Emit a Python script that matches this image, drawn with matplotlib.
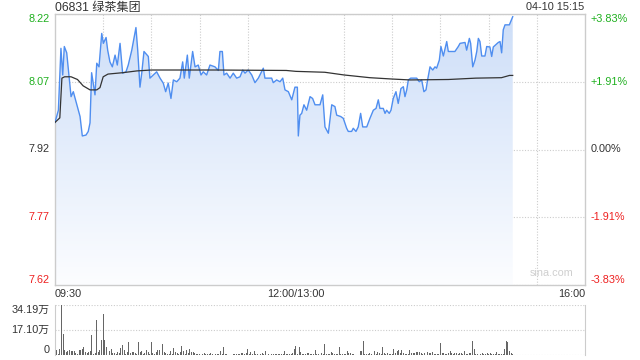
import numpy as np
import matplotlib
matplotlib.use("Agg")
import matplotlib.pyplot as plt
from matplotlib.patches import Polygon
from matplotlib.colors import LinearSegmentedColormap

plt.rcParams['font.family'] = ['Liberation Sans', 'Noto Sans CJK SC', 'DejaVu Sans']

# ---------------- data ----------------
title_text = "06831 绿茶集团"
stamp_text = "04-10 15:15"
prev_close = 7.92
price_ticks = [7.62, 7.77, 7.92, 8.07, 8.22]
price_tick_labels = ["7.62", "7.77", "7.92", "8.07", "8.22"]
pct_tick_labels = ["-3.83%", "-1.91%", "0.00%", "+1.91%", "+3.83%"]
time_ticks = [0, 150, 330]
time_tick_labels = ["09:30", "12:00/13:00", "16:00"]
vol_ticks = [0, 17.10, 34.19]
vol_tick_labels = ["0", "17.10万", "34.19万"]

# price line: trading-minute offset from 09:30, price
price_min = [0, 2.1, 3.7, 4.8, 5.8, 7.3, 10, 11.4, 15.6, 17, 19.3, 20.7, 21.8, 22.8, 24.9,
             26, 27.4, 29.1, 30.1, 31.8, 32.8, 34.2, 35.7, 37.4, 38.8, 40.5, 42.1, 44.2,
             45.6, 47.8, 50.4, 51.5, 52.9, 54, 55.4, 58.1, 59.1, 61.2, 63.3, 65.4, 67.4,
             68.9, 70.5, 72.2, 73.7, 75.8, 77.8, 79.5, 80.5, 82.4, 83.6, 85.7, 87.2, 89.2,
             90.9, 92.3, 94.4, 96.5, 99.6, 101.7, 102.7, 104.2, 105.2, 106.9, 109, 111,
             113.1, 115.2, 116.9, 118.3, 120.3, 122.5, 124.5, 126.6, 129.7, 130.7, 134.9,
             135.9, 138, 140.1, 141.8, 143.2, 145.3, 147.4, 149.4, 150.9, 151.5, 152.5,
             153.6, 155, 156.7, 158.8, 160.4, 161.9, 165, 166.7, 168.1, 170.2, 172.3,
             174.3, 175.4, 177.9, 179.5, 181.6, 182.6, 184.7, 185.7, 187.4, 188.8, 190.3,
             191.6, 194.1, 196.1, 198.2, 199.9, 201.3, 202.3, 204.4, 205.5, 206.5, 208.1,
             209.2, 210.6, 212.3, 213.7, 215.4, 216.9, 217.9, 219, 220, 221.5, 225.2,
             226.8, 228.3, 229.7, 231, 232, 233.5, 235.2, 236.6, 237.6, 239.3, 240.3,
             241.8, 243.9, 244.9, 249, 251.1, 252.2, 255.3, 256.3, 258, 258.8, 260.1,
             261.5, 262.6, 263.6, 264.6, 265.7, 267.7, 268.8, 270.8, 271.9, 272.9, 276,
             277.1, 278.1, 279.1, 280.2, 282.9, 285]
price_val = [7.98, 8.007, 8.144, 8.085, 8.148, 8.134, 8.037, 8.048, 7.993, 7.95, 7.952,
             7.96, 7.979, 8.09, 8.041, 8.111, 8.103, 8.177, 8.155, 8.168, 8.14, 8.114,
             8.103, 8.129, 8.107, 8.155, 8.089, 8.092, 8.107, 8.14, 8.19, 8.14, 8.058,
             8.089, 8.137, 8.126, 8.078, 8.085, 8.092, 8.078, 8.067, 8.048, 8.067, 8.033,
             8.074, 8.07, 8.078, 8.114, 8.078, 8.129, 8.078, 8.137, 8.103, 8.107, 8.085,
             8.092, 8.085, 8.107, 8.103, 8.095, 8.137, 8.137, 8.085, 8.089, 8.078, 8.089,
             8.078, 8.081, 8.096, 8.089, 8.096, 8.085, 8.068, 8.078, 8.1, 8.078, 8.078,
             8.068, 8.074, 8.07, 8.078, 8.052, 8.048, 8.03, 8.058, 8.058, 7.95, 7.996,
             8.0, 8.019, 8.007, 8.037, 8.033, 8.019, 8.019, 8.041, 7.97, 7.956, 8.019,
             8.015, 7.996, 7.993, 7.989, 7.967, 7.96, 7.96, 7.967, 7.96, 7.97, 8.0, 7.97,
             7.97, 7.989, 8.007, 8.011, 8.03, 8.011, 8.011, 8.0, 8.007, 8.0, 8.007, 8.033,
             8.048, 8.022, 8.055, 8.059, 8.037, 8.052, 8.074, 8.078, 8.078, 8.07, 8.074,
             8.048, 8.052, 8.074, 8.103, 8.096, 8.103, 8.1, 8.118, 8.148, 8.127, 8.159,
             8.137, 8.137, 8.148, 8.155, 8.157, 8.14, 8.166, 8.155, 8.103, 8.118, 8.137,
             8.166, 8.159, 8.127, 8.127, 8.148, 8.147, 8.126, 8.147, 8.157, 8.159, 8.134,
             8.185, 8.196, 8.196, 8.214]

# average price line
avg_min = [0, 3, 4.3, 6, 10, 14, 17.5, 21.8, 26, 28, 30, 33, 42, 51, 60, 100, 144, 150,
           168, 180, 196, 210, 221, 245, 262, 278, 283, 285]
avg_val = [7.98, 7.99, 8.078, 8.081, 8.081, 8.075, 8.061, 8.052, 8.052, 8.057, 8.081,
           8.087, 8.09, 8.094, 8.096, 8.096, 8.095, 8.093, 8.091, 8.085, 8.079, 8.076,
           8.074, 8.075, 8.078, 8.079, 8.084, 8.084]

# volume per minute (万)
volume = [
    14.5, 3.5, 1.0, 4.0, 34.1, 14.5, 3.5, 1.8, 3.0, 3.5,
    2.5, 3.0, 3.0, 1.2, 1.0, 3.5, 3.5, 4.0, 5.8, 1.8,
    1.2, 1.8, 3.0, 13.4, 0.7, 1.2, 23.7, 1.8, 3.5, 10.4,
    27.9, 10.4, 5.3, 8.7, 3.0, 4.0, 1.2, 1.2, 1.0, 1.8,
    1.2, 4.8, 7.1, 3.5, 1.0, 1.8, 9.2, 1.2, 1.8, 1.8,
    1.2, 1.0, 9.2, 1.8, 2.5, 1.0, 1.2, 3.5, 1.8, 1.0,
    8.7, 1.2, 0.7, 1.8, 3.5, 3.5, 3.5, 7.6, 1.8, 1.2,
    1.0, 0.7, 3.0, 1.0, 4.8, 1.8, 1.2, 0.7, 1.8, 6.4,
    3.0, 1.0, 3.5, 1.2, 4.0, 1.8, 1.8, 1.2, 0.7, 0.7,
    0.7, 0.2, 0.7, 1.2, 0.7, 0.5, 0.7, 1.2, 0.5, 0.2,
    0.7, 0.5, 0.7, 2.5, 0.7, 5.8, 0.7, 0.5, 0.2, 0.2,
    0.2, 0.5, 0.7, 0.7, 0.7, 0.7, 1.2, 1.2, 0.7, 1.2,
    4.1, 0.7, 1.8, 0.7, 3.0, 0.7, 0.7, 0.2, 0.7, 1.2,
    0.5, 3.0, 1.8, 0.7, 0.2, 0.5, 0.5, 0.5, 0.5, 0.5,
    0.5, 0.5, 0.5, 3.0, 0.7, 0.7, 0.7, 0.7, 1.2, 4.1,
    6.4, 0.7, 5.8, 1.8, 0.7, 0.7, 0.7, 1.2, 1.2, 0.7,
    0.7, 0.7, 3.5, 0.7, 0.7, 0.7, 1.2, 0.7, 7.6, 0.7,
    0.7, 0.7, 1.8, 1.2, 0.7, 0.7, 0.7, 5.8, 0.7, 0.7,
    0.7, 0.7, 3.0, 1.2, 1.2, 0.7, 0.7, 0.2, 0.2, 0.2,
    3.0, 3.0, 9.9, 0.7, 0.7, 0.7, 1.2, 0.7, 8.7, 3.0,
    0.7, 1.8, 1.2, 0.7, 5.8, 1.2, 0.7, 1.2, 0.7, 0.7,
    0.7, 4.1, 1.2, 2.5, 3.5, 1.2, 3.5, 1.2, 0.7, 0.7,
    0.7, 3.5, 1.2, 1.2, 1.2, 1.8, 1.8, 1.8, 1.2, 0.7,
    1.2, 1.2, 1.8, 1.2, 1.2, 1.8, 0.7, 0.7, 0.7, 0.7,
    8.1, 1.2, 1.2, 0.7, 0.7, 1.2, 3.0, 1.2, 0.7, 1.2,
    1.2, 0.7, 1.2, 1.2, 0.7, 2.5, 0.7, 0.7, 1.2, 1.2,
    9.4, 4.1, 0.7, 0.7, 0.2, 0.7, 1.2, 0.7, 0.7, 1.2,
    0.7, 1.2, 0.7, 0.7, 0.7, 1.8, 0.7, 0.7, 0.7, 0.7,
    4.1, 9.4, 8.7, 3.0, 1.2, 0.5]

# ---------------- styling ----------------
GREEN = '#1fb01f'
RED = '#ee2020'
DARK = '#333333'
GRID = '#cccccc'
LINE = '#4f8ef0'
FS = 7.8

fig = plt.figure(figsize=(6.4, 3.6), dpi=100)
W, H = 640.0, 360.0
ax = fig.add_axes([55 / W, 1 - 285 / H, 530 / W, 271 / H])
axv = fig.add_axes([55 / W, 1 - 355 / H, 530 / W, 50 / H])

ymin, ymax = price_ticks[0], price_ticks[-1]
ax.set_xlim(0, 330)
ax.set_ylim(ymin, ymax)

# gradient fill under the price line
verts = [(price_min[0], ymin)] + list(zip(price_min, price_val)) + [(price_min[-1], ymin)]
poly = Polygon(verts, closed=True, facecolor='none', edgecolor='none')
ax.add_patch(poly)
cmap = LinearSegmentedColormap.from_list('g', ['#fcfdff', '#cddef8'])
grad = np.linspace(0, 1, 256).reshape(-1, 1)
img = ax.imshow(grad, extent=[0, 330, ymin, ymax], aspect='auto', cmap=cmap,
                origin='lower', zorder=1, interpolation='bilinear')
img.set_clip_path(poly)

ax.plot(price_min, price_val, color=LINE, lw=1.0, zorder=3)
ax.plot(avg_min, avg_val, color=DARK, lw=0.9, zorder=4)
ax.set_xlim(0, 330)
ax.set_ylim(ymin, ymax)

# grids
ax.set_xticks(time_ticks)
ax.set_xticks(np.arange(30, 330, 30), minor=True)
ax.set_yticks(price_ticks)
ax.grid(False)
ax.grid(True, which='minor', axis='x', color=GRID, ls=(0, (1, 1.5)), lw=0.8)
ax.grid(True, which='major', axis='y', color=GRID, ls=(0, (1, 1.5)), lw=0.8)
ax.set_axisbelow(True)
for s in ax.spines.values():
    s.set_color(GRID)
    s.set_linewidth(1.0)

ax.tick_params(axis='both', which='both', length=0)
ax.set_xticklabels(time_tick_labels, fontsize=FS, color=DARK)
for lab, ha in zip(ax.get_xticklabels(), ['left', 'center', 'right']):
    lab.set_ha(ha)
ax.tick_params(axis='x', pad=3)

ax.set_yticklabels(price_tick_labels, fontsize=FS)
left_colors = [RED, RED, DARK, GREEN, GREEN]
vas = ['bottom', 'center', 'center', 'center', 'top']
for lab, c, va in zip(ax.get_yticklabels(), left_colors, vas):
    lab.set_color(c)
    lab.set_va(va)
ax.tick_params(axis='y', pad=4)

axr = ax.twinx()
axr.set_ylim(ymin, ymax)
axr.set_yticks(price_ticks)
axr.set_yticklabels(pct_tick_labels, fontsize=FS)
for lab, c, va in zip(axr.get_yticklabels(), left_colors, vas):
    lab.set_color(c)
    lab.set_va(va)
axr.tick_params(axis='y', length=0, pad=4)
for s in axr.spines.values():
    s.set_visible(False)

ax.text(0.978, 0.025, 'sina.com', transform=ax.transAxes, ha='right', va='bottom',
        fontsize=FS, color='#cfcfcf', zorder=5)

# volume panel
axv.bar(np.arange(len(volume)), volume, width=0.6, color='#666666', zorder=3)
axv.set_xlim(0, 330)
axv.set_ylim(0, vol_ticks[-1])
axv.set_yticks(vol_ticks)
axv.set_yticklabels(vol_tick_labels, fontsize=FS, color=DARK)
for lab, va in zip(axv.get_yticklabels(), ['bottom', 'center', 'top']):
    lab.set_va(va)
axv.set_xticks([])
axv.tick_params(axis='y', length=0, pad=4)
axv.grid(True, axis='y', color=GRID, ls=(0, (1, 1.5)), lw=0.8, zorder=1)
axv.grid(False, axis='x')
axv.spines['top'].set_visible(False)
axv.spines['bottom'].set_visible(False)
axv.spines['left'].set_color(GRID)
axv.spines['right'].set_color(GRID)
axv.set_facecolor('none')

fig.text(55 / W, 1 - 7.5 / H, title_text, ha='left', va='center', fontsize=8.7, color=DARK)
fig.text(584 / W, 1 - 7.5 / H, stamp_text, ha='right', va='center', fontsize=FS, color=DARK)

fig.savefig('out.png', dpi=100, facecolor='white')
